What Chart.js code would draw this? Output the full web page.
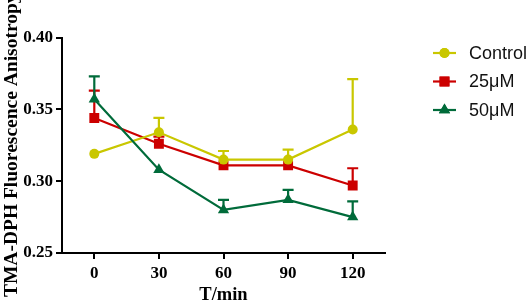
<!DOCTYPE html>
<html>
<head>
<meta charset="utf-8">
<script src="https://cdn.jsdelivr.net/npm/chart.js@4.4.0/dist/chart.umd.min.js"></script>
<style>
  html, body { margin: 0; padding: 0; background: #fff; }
  #wrap { width: 526px; height: 304px; }
</style>
</head>
<body>
<div id="wrap"><canvas id="chart" width="526" height="304"></canvas></div>
<script>
// data
const times = ['0', '30', '60', '90', '120'];
const yTicks = [0.25, 0.30, 0.35, 0.40];

const controlVals = [0.319, 0.334, 0.315, 0.315, 0.336];
const controlErr  = [0.000, 0.010, 0.006, 0.007, 0.035];

const dose25Vals = [0.344, 0.326, 0.311, 0.311, 0.297];
const dose25Err  = [0.019, 0.005, 0.000, 0.000, 0.012];

const dose50Vals = [0.357, 0.308, 0.280, 0.287, 0.275];
const dose50Err  = [0.016, 0.000, 0.007, 0.007, 0.011];

const serif = "'Liberation Serif', 'Times New Roman', serif";
const sans = "'Liberation Sans', Arial, sans-serif";

function series(label, data, err, color, style, radius, order) {
    return {
        label, data, err,
        borderColor: color, backgroundColor: color,
        borderWidth: 2.2,
        pointStyle: style, pointRadius: radius, pointHoverRadius: radius,
        pointBorderWidth: 0,
        tension: 0, order
    };
}

// upward error bars, drawn with each dataset so stacking order stays right
const errorBars = {
    id: 'errorBars',
    afterDatasetDraw(chart, args) {
        const ds = chart.data.datasets[args.index];
        if (!ds.err) return;
        const meta = args.meta;
        const y = chart.scales.y;
        const ctx = chart.ctx;
        ctx.save();
        ctx.strokeStyle = ds.borderColor;
        ctx.lineWidth = 2.2;
        meta.data.forEach((pt, i) => {
            const e = ds.err[i];
            if (!e) return;
            const top = y.getPixelForValue(ds.data[i] + e);
            ctx.beginPath();
            ctx.moveTo(pt.x, pt.y);
            ctx.lineTo(pt.x, top);
            ctx.moveTo(pt.x - 5.5, top);
            ctx.lineTo(pt.x + 5.5, top);
            ctx.stroke();
        });
        ctx.restore();
    }
};

// legend on the right: short line with marker, then label
const sideLegend = {
    id: 'sideLegend',
    afterDraw(chart) {
        const ctx = chart.ctx;
        const x0 = 433, x1 = 456, tx = 469;
        const rows = [53, 81.5, 110];
        ctx.save();
        chart.data.datasets.forEach((ds, i) => {
            const yy = rows[i];
            ctx.strokeStyle = ds.borderColor;
            ctx.lineWidth = 2.2;
            ctx.beginPath();
            ctx.moveTo(x0, yy);
            ctx.lineTo(x1, yy);
            ctx.stroke();
            ctx.fillStyle = ds.backgroundColor;
            Chart.helpers.drawPoint(ctx, { pointStyle: ds.pointStyle, radius: ds.pointRadius, borderWidth: 0 }, (x0 + x1) / 2, yy);
            ctx.fill();
            ctx.fillStyle = '#111';
            ctx.font = '18px ' + sans;
            ctx.textBaseline = 'middle';
            ctx.textAlign = 'left';
            ctx.fillText(ds.label, tx, yy + 1);
        });
        ctx.restore();
    }
};

new Chart(document.getElementById('chart'), {
    type: 'line',
    data: {
        labels: times,
        datasets: [
            series('Control', controlVals, controlErr, '#c9c700', 'circle', 5, 2),
            series('25μM', dose25Vals, dose25Err, '#cc0000', 'rect', 7, 3),
            series('50μM', dose50Vals, dose50Err, '#006b3a', 'triangle', 6.5, 1)
        ]
    },
    options: {
        responsive: false,
        animation: false,
        events: [],
        layout: { padding: { left: 0, top: 37.5, right: 141, bottom: 0 } },
        plugins: { legend: { display: false }, tooltip: { enabled: false } },
        scales: {
            x: {
                type: 'category',
                offset: true,
                grid: { offset: false, drawOnChartArea: false, drawTicks: true, tickLength: 6, color: '#000', lineWidth: 2 },
                border: { color: '#000', width: 2 },
                ticks: { color: '#000', font: { family: serif, size: 17, weight: 'bold' }, padding: 4, maxRotation: 0 },
                title: { display: true, text: 'T/min', color: '#000', font: { family: serif, size: 18.5, weight: 'bold' }, padding: { top: 0, bottom: -2 } },
                afterFit(scale) { scale.height = 51; }
            },
            y: {
                min: 0.25, max: 0.40,
                afterBuildTicks(scale) { scale.ticks = yTicks.map(v => ({ value: v })); },
                grid: { drawOnChartArea: false, drawTicks: true, tickLength: 6, color: '#000', lineWidth: 2 },
                border: { color: '#000', width: 2 },
                ticks: { color: '#000', font: { family: serif, size: 17, weight: 'bold' }, padding: 3, callback: v => v.toFixed(2) },
                title: { display: true, text: 'TMA-DPH Fluorescence Anisotropy', color: '#000', font: { family: serif, size: 19.5, weight: 'bold' }, padding: { top: 0, bottom: 0 } },
                afterFit(scale) { scale.width = 62; }
            }
        }
    },
    plugins: [errorBars, sideLegend]
});
</script>
</body>
</html>
